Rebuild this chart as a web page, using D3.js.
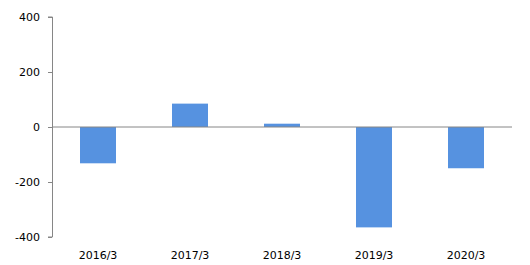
<!DOCTYPE html>
<html>
<head>
<meta charset="utf-8">
<script src="https://cdn.jsdelivr.net/npm/d3@7"></script>
<style>
  body { margin: 0; background: #fff; }
  text { font-family: "DejaVu Sans", sans-serif; font-size: 11px; fill: #000; }
</style>
</head>
<body>
<svg id="chart" width="530" height="265"></svg>
<script>
const periodos = ["2016/3", "2017/3", "2018/3", "2019/3", "2020/3"];
const valores = [-132, 85, 12, -365, -150];
const yTicks = [-400, -200, 0, 200, 400];

const svg = d3.select("#chart");
const margin = {left: 52, right: 18, top: 17, bottom: 28};
const width = 530 - margin.left - margin.right;
const height = 265 - margin.top - margin.bottom;

const g = svg.append("g").attr("transform", `translate(${margin.left},${margin.top})`);

const x = d3.scaleBand(periodos, [0, width]).paddingInner(0.6087).paddingOuter(0.30435);
const y = d3.scaleLinear([-400, 400], [height, 0]);

// bars
g.selectAll("rect")
  .data(periodos)
  .join("rect")
  .attr("x", d => x(d))
  .attr("width", x.bandwidth())
  .attr("y", (d, i) => y(Math.max(0, valores[i])))
  .attr("height", (d, i) => Math.abs(y(valores[i]) - y(0)))
  .attr("fill", "#5692e0");

// y axis (plain hyphen for negatives, like the original)
const yAxis = g.append("g")
  .call(d3.axisLeft(y).tickValues(yTicks).tickSize(4).tickPadding(8).tickFormat(d => String(d)));
yAxis.select(".domain").attr("stroke", "#868686").attr("d", `M-4,${y(-400)}H0.5V${y(400)}H-4`);
yAxis.selectAll(".tick line").attr("stroke", "#868686");
yAxis.selectAll("text").style("font-family", "DejaVu Sans").style("font-size", "11px");

// zero line
g.append("line")
  .attr("x1", 0).attr("x2", width)
  .attr("y1", y(0)).attr("y2", y(0))
  .attr("stroke", "#868686").attr("stroke-width", 1);

// category labels
g.selectAll(".cat")
  .data(periodos)
  .join("text")
  .attr("class", "cat")
  .attr("x", d => x(d) + x.bandwidth() / 2)
  .attr("y", height + 22)
  .attr("text-anchor", "middle")
  .text(d => d);
</script>
</body>
</html>
